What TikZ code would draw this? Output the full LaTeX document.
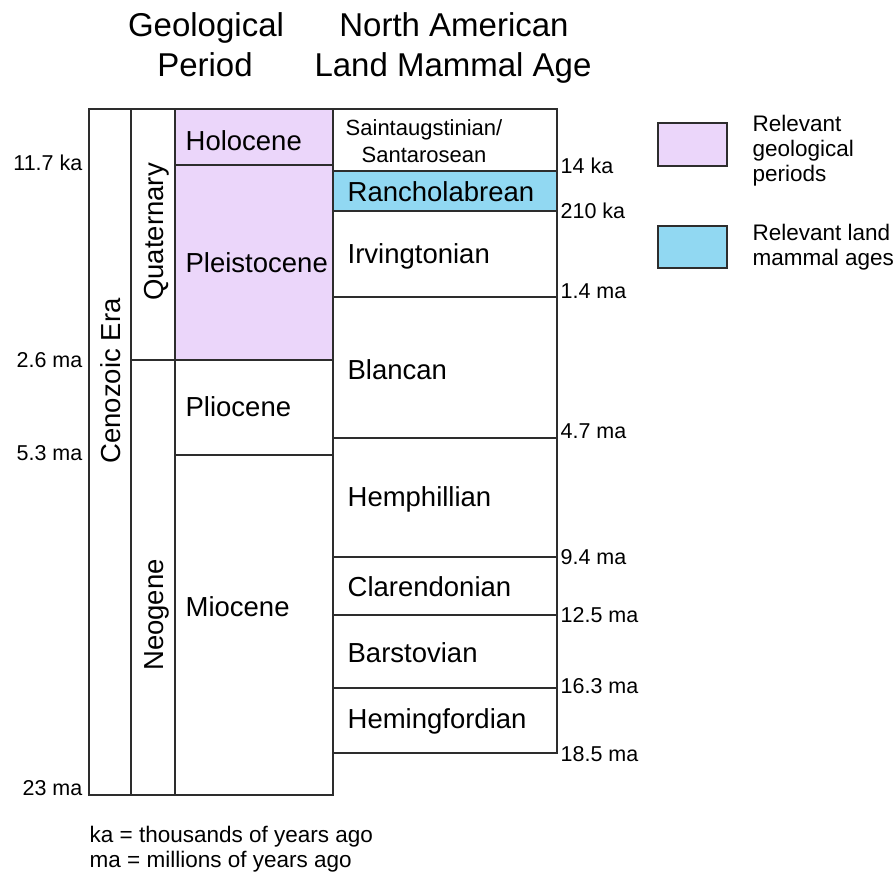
\documentclass[tikz,border=0pt]{standalone}
\usepackage{fontspec}
\setmainfont{Liberation Sans}
\definecolor{geo}{RGB}{235,214,250}
\definecolor{nalma}{RGB}{145,216,242}
\definecolor{ln}{RGB}{45,45,45}
\newcommand{\fsz}[1]{\fontsize{#1pt}{#1pt}\selectfont}
\begin{document}
\begin{tikzpicture}[x=1pt,y=-1pt,line width=1.3pt,
  cell/.style={draw=ln},
  lbl/.style={anchor=base west,inner sep=0pt,font=\fsz{27.5}},
  rlbl/.style={anchor=base,inner sep=0pt,rotate=90,font=\fsz{27.5}},
  tickl/.style={anchor=base east,inner sep=0pt,font=\fsz{21.5}},
  tickr/.style={anchor=base west,inner sep=0pt,font=\fsz{21.5}},
  ttl/.style={anchor=base,inner sep=0pt,font=\fsz{33}},
  leg/.style={anchor=base west,inner sep=0pt,font=\fsz{22.5}},
  small/.style={anchor=base,inner sep=0pt,font=\fsz{22}},
  foot/.style={anchor=base west,inner sep=0pt,font=\fsz{22.5}}]
\useasboundingbox (0,0) rectangle (895,873);

% titles
\node[ttl] (t1) at (206,36) {Geological};
\node[ttl] (t2) at (205,76) {Period};
\node[ttl] (t3) at (454,36) {North American};
\node[ttl] (t4) at (453,76) {Land Mammal Age};

% era / sub-era columns
\draw[cell] (89,109) rectangle (131,795);
\draw[cell] (131,109) rectangle (175,360);
\draw[cell] (131,360) rectangle (175,795);

% geological periods
\draw[cell,fill=geo] (175,109) rectangle (333,165);
\draw[cell,fill=geo] (175,165) rectangle (333,360);
\draw[cell] (175,360) rectangle (333,455);
\draw[cell] (175,455) rectangle (333,795);

% NALMA
\draw[cell] (333,109) rectangle (557,171);
\draw[cell,fill=nalma] (333,171) rectangle (557,211);
\draw[cell] (333,211) rectangle (557,297);
\draw[cell] (333,297) rectangle (557,438);
\draw[cell] (333,438) rectangle (557,557);
\draw[cell] (333,557) rectangle (557,615);
\draw[cell] (333,615) rectangle (557,688);
\draw[cell] (333,688) rectangle (557,753);

% rotated labels
\node[rlbl] (era) at (120,381) {Cenozoic Era};
\node[rlbl] (qua) at (163,232) {Quaternary};
\node[rlbl] (neo) at (163,615) {Neogene};

% period labels
\node[lbl] (hol) at (185,150) {Holocene};
\node[lbl] (ple) at (185,272) {Pleistocene};
\node[lbl] (pli) at (185,416) {Pliocene};
\node[lbl] (mio) at (185,616) {Miocene};

% NALMA labels
\node[small] (sai) at (424,135) {Saintaugstinian/};
\node[small] (san) at (424,162) {Santarosean};
\node[lbl] (ran) at (347,201) {Rancholabrean};
\node[lbl] (irv) at (347,263) {Irvingtonian};
\node[lbl] (bla) at (347,379) {Blancan};
\node[lbl] (hem) at (347,506) {Hemphillian};
\node[lbl] (cla) at (347,596) {Clarendonian};
\node[lbl] (bar) at (347,662) {Barstovian};
\node[lbl] (hmf) at (347,728) {Hemingfordian};

% left ticks
\node[tickl] (l1) at (83,170) {11.7 ka};
\node[tickl] (l2) at (83,367) {2.6 ma};
\node[tickl] (l3) at (83,460) {5.3 ma};
\node[tickl] (l4) at (83,795) {23 ma};

% right ticks
\node[tickr] (r1) at (560,173) {14 ka};
\node[tickr] (r2) at (560,218) {210 ka};
\node[tickr] (r3) at (560,298) {1.4 ma};
\node[tickr] (r4) at (560,438) {4.7 ma};
\node[tickr] (r5) at (560,564) {9.4 ma};
\node[tickr] (r6) at (560,622) {12.5 ma};
\node[tickr] (r7) at (560,693) {16.3 ma};
\node[tickr] (r8) at (560,761) {18.5 ma};

% legend
\draw[cell,fill=geo] (658,123) rectangle (727,166);
\draw[cell,fill=nalma] (658,226) rectangle (727,268);
\node[leg] (g1) at (752,131) {Relevant};
\node[leg] (g2) at (752,156) {geological};
\node[leg] (g3) at (752,181) {periods};
\node[leg] (g4) at (752,240) {Relevant land};
\node[leg] (g5) at (752,265) {mammal ages};

% footnote
\node[foot] (f1) at (89,842) {ka = thousands of years ago};
\node[foot] (f2) at (89,867) {ma = millions of years ago};
\end{tikzpicture}
\end{document}
